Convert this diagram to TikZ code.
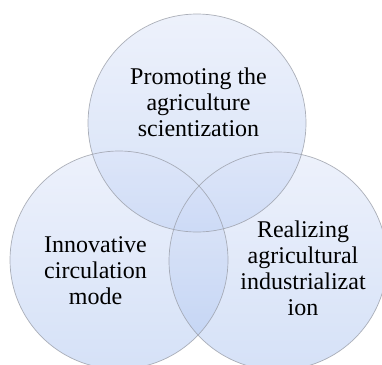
\documentclass[tikz,border=0pt]{standalone}
\usepackage{fontspec}
\setmainfont{Liberation Serif}
\definecolor{vtop}{HTML}{DDE5F9}
\definecolor{vbot}{HTML}{ADC5F1}
\definecolor{vline}{HTML}{9A9EA8}
\tikzset{
  venn/.style={top color=vtop, bottom color=vbot, fill opacity=0.5},
  vennline/.style={draw=vline, line width=0.7pt, draw opacity=0.8},
  venntext/.style={inner sep=0pt, align=center, text=black,
    font=\fontsize{24}{26}\selectfont}
}
\begin{document}
\begin{tikzpicture}[x=1pt,y=-1pt]
\useasboundingbox (0,0) rectangle (382,364);
\clip (0,0) rectangle (382,364);
\fill[white] (0,0) rectangle (382,364);
\coordinate (ct) at (197,123);
\coordinate (cl) at (119,260);
\coordinate (cr) at (278,261);
\shade[venn] (ct) circle[radius=109];
\shade[venn] (cl) circle[radius=109];
\shade[venn] (cr) circle[radius=109];
\draw[vennline] (ct) circle[radius=109];
\draw[vennline] (cl) circle[radius=109];
\draw[vennline] (cr) circle[radius=109];
\node[venntext] (tt) at (198.5,101.8) {Promoting the\\agriculture\\scientization};
\node[venntext] (tl) at (95.5,270.8) {Innovative\\circulation\\mode};
\node[venntext] (tr) at (303,267.8) {Realizing\\agricultural\\industrializat\\ion};
\end{tikzpicture}
\end{document}
